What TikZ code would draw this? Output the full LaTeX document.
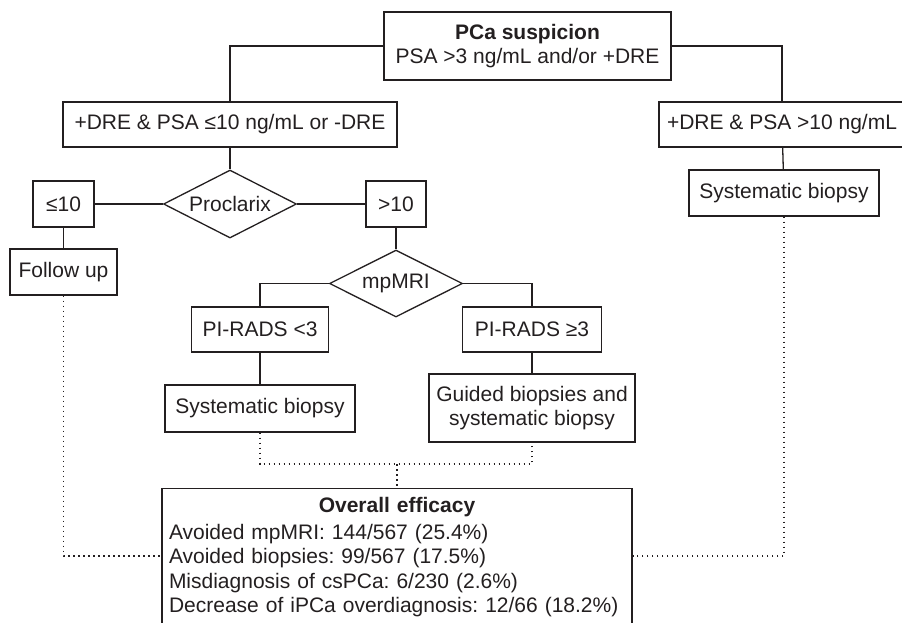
\documentclass[tikz,border=0pt]{standalone}
\usepackage{fontspec}
\setmainfont{Liberation Sans}
\usetikzlibrary{shapes.geometric}
\definecolor{inkline}{RGB}{35,31,32}
\begin{document}
\frenchspacing
\begin{tikzpicture}[x=1pt, y=-1pt, line width=1.3pt, inkline,
	box/.style={draw, rectangle, inner sep=0pt, minimum height=46pt, align=center, font=\fontsize{21}{24.5}\selectfont},
	choice/.style={draw, diamond, shape aspect=2, inner sep=0pt, minimum width=133pt, minimum height=68pt, font=\fontsize{21}{24.5}\selectfont},
	result/.style={dash pattern=on 1.8pt off 3.2pt}]
		\useasboundingbox (0,0) rectangle (902,622);
		\clip (0,0) rectangle (902,622);
		
		%suspicion and PSA split
		\node (susp) at (527.5,46) [box, minimum width=287pt, minimum height=68pt]{\textbf{PCa suspicion}\\PSA >3 ng/mL and/or +DRE};
		\node (low) at (230,124.5) [box, minimum width=334pt, minimum height=45pt]{+DRE \& PSA ≤10 ng/mL or -DRE};
		\node (high) at (782,124.5) [box, minimum width=246pt, minimum height=45pt]{+DRE \& PSA >10 ng/mL};
		\node (sysR) at (784,193) [box, minimum width=190pt]{Systematic biopsy};
		
		%Proclarix branch
		\node (prox) at (230,204) [choice]{Proclarix};
		\node (le) at (63.5,204) [box, minimum width=61pt]{≤10};
		\node (gt) at (396,204) [box, minimum width=60pt]{>10};
		\node (fup) at (63.5,272) [box, minimum width=107pt]{Follow up};
		
		%mpMRI branch
		\node (mri) at (396,283.5) [choice, minimum height=67pt]{mpMRI};
		\node (pilow) at (260,329.5) [box, minimum width=137pt, minimum height=45pt]{PI-RADS <3};
		\node (pihigh) at (532,329.5) [box, minimum width=139pt, minimum height=45pt]{PI-RADS ≥3};
		\node (sysL) at (260,408.5) [box, minimum width=190pt, minimum height=47pt]{Systematic biopsy};
		\node (guided) at (532,408) [box, minimum width=206pt, minimum height=68pt]{Guided biopsies and\\systematic biopsy};
		
		%outcome
		\node (overall) at (397,488) [draw, anchor=north, text width=456pt, inner xsep=7pt, inner ysep=9pt, align=left, font=\fontsize{21}{24.5}\selectfont]{\makebox[456pt]{\bfseries Overall efficacy}\\[2pt]Avoided mpMRI: 144/567 (25.4\%)\\Avoided biopsies: 99/567 (17.5\%)\\Misdiagnosis of csPCa: 6/230 (2.6\%)\\Decrease of iPCa overdiagnosis: 12/66 (18.2\%)\\ \mbox{}};
		\coordinate (meet) at (397,464);
		\coordinate (effy) at (397,556);
		
		\draw (susp.west) -| (low.north);
		\draw (susp.east) -| (high.north);
		\draw (high) -- (sysR);
		\draw (low) -- (prox);
		\draw (prox) -- (le);
		\draw (prox) -- (gt);
		\draw (le) -- (fup);
		\draw (gt) -- (mri);
		\draw (mri.west) -| (pilow.north);
		\draw (mri.east) -| (pihigh.north);
		\draw (pilow) -- (sysL);
		\draw (pihigh) -- (guided);
		
		\draw[result] (sysL.south) |- (meet) -| (guided.south);
		\draw[result] (meet) -- (overall.north);
		\draw[result] (fup.south) |- (overall.west |- effy);
		\draw[result] (sysR.south) |- (overall.east |- effy);
		\end{tikzpicture}
\end{document}
